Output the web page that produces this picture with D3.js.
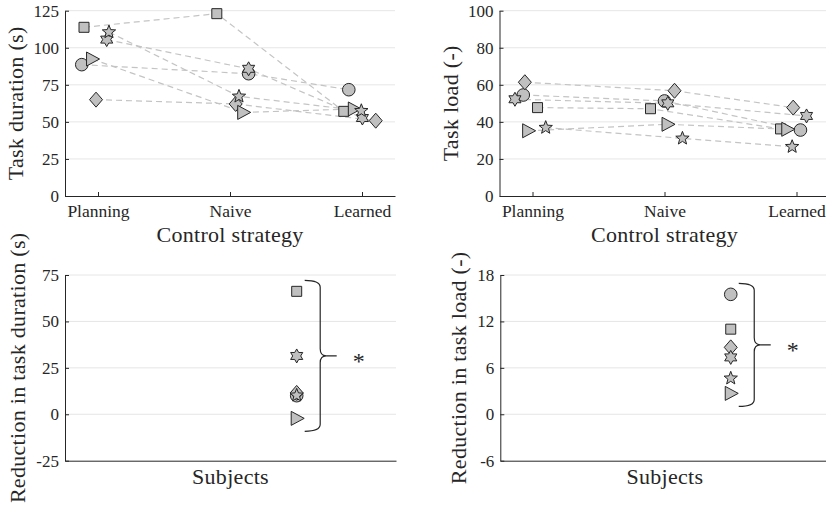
<!DOCTYPE html>
<html><head><meta charset="utf-8">
<script src="https://cdn.jsdelivr.net/npm/d3@7"></script>
<style>body{margin:0;background:#fff}svg{display:block}
text{font-family:"Liberation Serif","DejaVu Serif","Noto Serif",serif}</style>
</head><body>
<svg id="chart" width="826" height="509"></svg>
<script>
// ---------- data ----------
const categories = ["Planning", "Naive", "Learned"];
const markers = ["square", "circle", "diamond", "triangle", "hexagram", "pentagram"];

const durationPlanning = [113.8, 88.6, 65.0, 92.4, 105.5, 110.6];
const durationNaive    = [123.0, 82.5, 62.1, 56.4, 85.8, 67.2];
const durationLearned  = [57.1, 71.7, 50.8, 58.7, 52.6, 57.5];
const durationJitterPlanning = [-0.106, -0.123, -0.015, -0.045, 0.066, 0.083];
const durationJitterNaive    = [-0.100, 0.141, 0.043, 0.100, 0.141, 0.068];
const durationJitterLearned  = [-0.138, -0.100, 0.104, -0.062, 0.003, -0.005];

const loadPlanning = [47.7, 54.5, 61.4, 35.2, 52.2, 36.9];
const loadNaive    = [47.1, 51.3, 56.8, 38.7, 50.0, 31.1];
const loadLearned  = [36.2, 35.6, 47.7, 36.0, 43.2, 26.6];
const loadJitterPlanning = [0.038, -0.070, -0.058, -0.033, -0.133, 0.100];
const loadJitterNaive    = [-0.106, 0.000, 0.076, 0.023, 0.025, 0.136];
const loadJitterLearned  = [-0.121, 0.030, -0.025, -0.070, 0.076, -0.033];

const durationReduction = [66.2, 10.0, 11.5, -2.2, 31.4, 10.2];
const loadReduction     = [11.0, 15.5, 8.65, 2.7, 7.35, 4.65];
const reductionX = 0.7;

const durationTicks = [0, 25, 50, 75, 100, 125];
const loadTicks = [0, 20, 40, 60, 80, 100];
const durationReductionTicks = [-25, 0, 25, 50, 75];
const loadReductionTicks = [-6, 0, 6, 12, 18];
const significance = "*";

// ---------- drawing ----------
const svg = d3.select("#chart");
const INK = "#262626";
const FILL = "#c0c0c0";

function starPath(n, ro, ri) {
  const pts = [];
  for (let k = 0; k < 2 * n; k++) {
    const r = k % 2 === 0 ? ro : ri;
    const a = -Math.PI / 2 + k * Math.PI / n;
    pts.push([r * Math.cos(a), r * Math.sin(a)]);
  }
  return "M" + pts.map(p => p[0].toFixed(2) + "," + p[1].toFixed(2)).join("L") + "Z";
}
function markerPath(type) {
  switch (type) {
    case "square": return "M-5,-5H5V5H-5Z";
    case "circle": return d3.symbol(d3.symbolCircle, Math.PI * 6.3 * 6.3)();
    case "diamond": return "M0,-7.5L6.5,0L0,7.5L-6.5,0Z";
    case "triangle": return "M-5.5,-7L7.5,0L-5.5,7Z";
    case "hexagram": return starPath(6, 7, 4.0);
    case "pentagram": return starPath(5, 7, 3.0);
  }
}

function frame(cfg) {
  const g = svg.append("g");
  const y = d3.scaleLinear().domain(cfg.yDomain).range([cfg.y1, cfg.y0]);
  const x = d3.scaleLinear().domain(cfg.xDomain).range([cfg.x0, cfg.x1]);
  g.append("g").selectAll("line").data(cfg.yTicks.slice(1)).join("line")
    .attr("x1", cfg.x0).attr("x2", cfg.x1)
    .attr("y1", d => y(d)).attr("y2", d => y(d))
    .attr("stroke", "#e6e6e6").attr("stroke-width", 1);
  const ya = g.append("g").attr("transform", `translate(${cfg.x0},0)`)
    .call(d3.axisLeft(y).tickValues(cfg.yTicks).tickFormat(d => String(d))
      .tickSizeInner(-4).tickSizeOuter(0).tickPadding(6));
  const xaxis = d3.axisBottom(x).tickSizeInner(-4).tickSizeOuter(0).tickPadding(9);
  if (cfg.catTicks) xaxis.tickValues([1, 2, 3]).tickFormat(i => categories[i - 1]);
  else xaxis.tickValues([]);
  const xa = g.append("g").attr("transform", `translate(0,${cfg.y1})`).call(xaxis);
  [ya, xa].forEach(a => {
    a.attr("font-family", null).attr("font-size", null);
    a.selectAll("path,line").attr("stroke", INK).attr("stroke-width", 1);
    a.selectAll("text").attr("fill", INK).style("font-size", "17px");
  });
  xa.selectAll("text").style("font-size", "17.5px");
  g.append("text").attr("x", (cfg.x0 + cfg.xlabelRef) / 2).attr("y", cfg.xlabelY)
    .attr("text-anchor", "middle").attr("fill", INK)
    .style("font-size", "22px").style("letter-spacing", "0.3px").text(cfg.xlabel);
  const cy = (cfg.y0 + cfg.y1) / 2;
  g.append("text").attr("transform", `translate(${cfg.ylabelX},${cy}) rotate(-90)`)
    .attr("text-anchor", "middle").attr("fill", INK)
    .style("font-size", "22px").style("letter-spacing", "0.3px").text(cfg.ylabel);
  return { g, x, y };
}

function stripPanel(cfg, planning, naive, learned, jp, jn, jl) {
  const { g, x, y } = frame(cfg);
  const line = d3.line().x(d => x(d[0])).y(d => y(d[1]));
  const series = markers.map((m, i) => ({
    m, pts: [[1 + jp[i], planning[i]], [2 + jn[i], naive[i]], [3 + jl[i], learned[i]]]
  }));
  g.append("g").selectAll("path").data(series).join("path")
    .attr("d", d => line(d.pts)).attr("fill", "none")
    .attr("stroke", "#c4c4c4").attr("stroke-width", 1.2).attr("stroke-dasharray", "6,4");
  const mg = g.append("g");
  series.forEach(s => {
    mg.selectAll(null).data(s.pts).join("path")
      .attr("transform", d => `translate(${x(d[0])},${y(d[1])})`)
      .attr("d", markerPath(s.m)).attr("fill", FILL).attr("stroke", INK).attr("stroke-width", 1);
  });
}

function reductionPanel(cfg, values) {
  const { g, x, y } = frame(cfg);
  const pts = markers.map((m, i) => ({ m, v: values[i] }));
  g.append("g").selectAll("path").data(pts).join("path")
    .attr("transform", d => `translate(${x(reductionX)},${y(d.v)})`)
    .attr("d", d => markerPath(d.m)).attr("fill", FILL).attr("stroke", INK).attr("stroke-width", 1);
  const mx = x(reductionX);
  const yTop = y(d3.max(values)) - 11, yBot = y(d3.min(values)) + 13;
  const yMid = (yTop + yBot) / 2;
  const x0 = mx + 8, xv = mx + 23.5, xt = mx + 40, r = 7;
  const p = d3.path();
  p.moveTo(x0, yTop);
  p.quadraticCurveTo(xv, yTop, xv, yTop + r);
  p.lineTo(xv, yMid - r);
  p.quadraticCurveTo(xv, yMid, xv + 6, yMid);
  p.quadraticCurveTo(xv, yMid, xv, yMid + r);
  p.lineTo(xv, yBot - r);
  p.quadraticCurveTo(xv, yBot, x0, yBot);
  p.moveTo(xv + 6, yMid);
  p.lineTo(xt, yMid);
  g.append("path").attr("d", p.toString()).attr("fill", "none")
    .attr("stroke", INK).attr("stroke-width", 1.2);
  g.append("text").attr("x", mx + 62).attr("y", yMid + 13)
    .attr("text-anchor", "middle").attr("fill", INK)
    .style("font-size", "24px").text(significance);
}

stripPanel({ x0: 65, x1: 395, y0: 10.7, y1: 196, xDomain: [0.75, 3.25], yDomain: [0, 125],
  yTicks: durationTicks, catTicks: true, xlabel: "Control strategy", xlabelRef: 395, xlabelY: 242,
  ylabel: "Task duration (s)", ylabelX: 23 },
  durationPlanning, durationNaive, durationLearned,
  durationJitterPlanning, durationJitterNaive, durationJitterLearned);

stripPanel({ x0: 499.5, x1: 829.5, y0: 10.7, y1: 196, xDomain: [0.75, 3.25], yDomain: [0, 100],
  yTicks: loadTicks, catTicks: true, xlabel: "Control strategy", xlabelRef: 829.5, xlabelY: 242,
  ylabel: "Task load (-)", ylabelX: 458 },
  loadPlanning, loadNaive, loadLearned,
  loadJitterPlanning, loadJitterNaive, loadJitterLearned);

reductionPanel({ x0: 65, x1: 396, y0: 275, y1: 460.7, xDomain: [0, 1], yDomain: [-25, 75],
  yTicks: durationReductionTicks, catTicks: false, xlabel: "Subjects", xlabelRef: 396, xlabelY: 484,
  ylabel: "Reduction in task duration (s)", ylabelX: 25 }, durationReduction);

reductionPanel({ x0: 500.3, x1: 829.5, y0: 275, y1: 460.7, xDomain: [0, 1], yDomain: [-6, 18],
  yTicks: loadReductionTicks, catTicks: false, xlabel: "Subjects", xlabelRef: 829.5, xlabelY: 484,
  ylabel: "Reduction in task load (-)", ylabelX: 466 }, loadReduction);
</script>
</body></html>
